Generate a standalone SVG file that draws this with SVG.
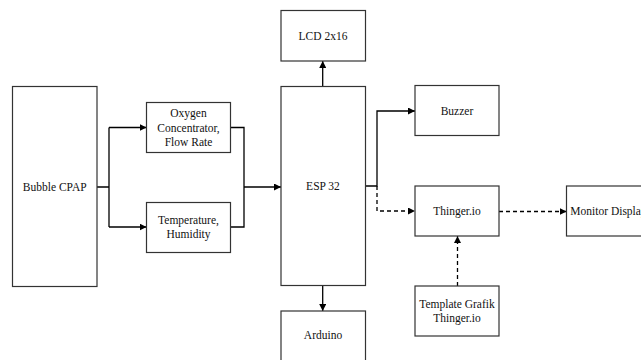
<svg xmlns="http://www.w3.org/2000/svg" width="641" height="360" viewBox="0 0 641 360">
<defs>
<marker id="ah" viewBox="0 0 10 10" refX="10" refY="5" markerWidth="7" markerHeight="7" markerUnits="userSpaceOnUse" orient="auto">
<path d="M0,0 L10,5 L0,10 z" fill="#000"/>
</marker>
<style>
.box{fill:#fff;stroke:#333;stroke-width:1.2}
.t{font-family:"Liberation Serif","Times New Roman",serif;font-size:11.5px;fill:#111;text-anchor:middle}
.c{fill:none;stroke:#000;stroke-width:1.3}
.d{stroke-dasharray:4,3}
.a{marker-end:url(#ah)}
</style>
</defs>
<rect width="641" height="360" fill="#fff"/>
<g id="connectors">
<path class="c" d="M97,187 H109 M109,127.5 V227"/>
<path class="c a" d="M109,127.5 H146.5"/>
<path class="c a" d="M109,227 H146.5"/>
<path class="c" d="M230.5,127.5 H244 V227 H230.5"/>
<path class="c a" d="M244,187 H281"/>
<path class="c a" d="M322.7,86.5 V61"/>
<path class="c a" d="M322.7,285.5 V311"/>
<path class="c a" d="M365.5,186 H377 V111 H415"/>
<path class="c d a" d="M377,186 V211 H415"/>
<path class="c d a" d="M499,211.5 H566.5"/>
<path class="c d a" d="M457.5,286 V236"/>
</g>
<g id="bubble-cpap"><rect class="box" x="12.5" y="86.5" width="84.5" height="200"/><text class="t" x="54.7" y="191">Bubble CPAP</text></g>
<g id="oxygen"><rect class="box" x="146.5" y="102.5" width="84" height="50"/><text class="t" x="188.5" y="117">Oxygen</text><text class="t" x="188.5" y="131.5">Concentrator,</text><text class="t" x="188.5" y="146">Flow Rate</text></g>
<g id="temperature"><rect class="box" x="146.5" y="202.5" width="84" height="50"/><text class="t" x="188.5" y="223.5">Temperature,</text><text class="t" x="188.5" y="238">Humidity</text></g>
<g id="esp32"><rect class="box" x="281" y="86.5" width="84.5" height="199"/><text class="t" x="323" y="190">ESP 32</text></g>
<g id="lcd"><rect class="box" x="281" y="10.5" width="84.5" height="50.5"/><text class="t" x="323" y="39.5">LCD 2x16</text></g>
<g id="arduino"><rect class="box" x="281" y="311" width="84.5" height="60"/><text class="t" x="323" y="339">Arduino</text></g>
<g id="buzzer"><rect class="box" x="415" y="85.5" width="84" height="50"/><text class="t" x="457" y="114.5">Buzzer</text></g>
<g id="thinger"><rect class="box" x="415" y="186" width="84" height="50"/><text class="t" x="457" y="215">Thinger.io</text></g>
<g id="monitor"><rect class="box" x="566.5" y="186" width="84" height="50"/><text class="t" x="608.5" y="215">Monitor Display</text></g>
<g id="template"><rect class="box" x="415" y="286" width="84" height="50"/><text class="t" x="457" y="307.5">Template Grafik</text><text class="t" x="457" y="322">Thinger.io</text></g>
</svg>
